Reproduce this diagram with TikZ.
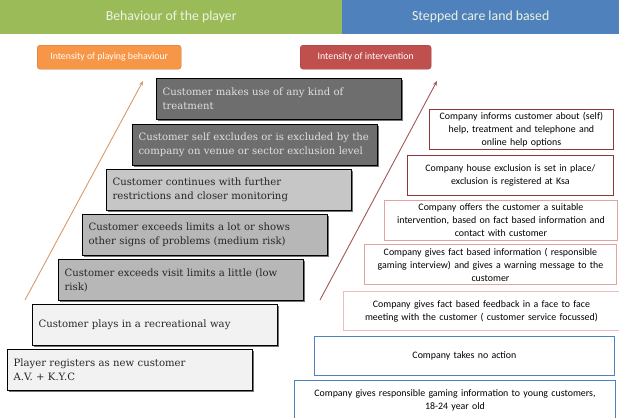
\documentclass[tikz,border=0pt]{standalone}
\usepackage{fontspec}
\setmainfont{DejaVu Serif}
\newfontfamily\carlitofont{Carlito}
\usetikzlibrary{shadows,arrows.meta}
\definecolor{hgreen}{HTML}{9BBB59}
\definecolor{hblue}{HTML}{4F81BD}
\definecolor{horange}{HTML}{F79646}
\definecolor{hred}{HTML}{C0504D}
\definecolor{darkbox}{HTML}{6E6E6E}
\definecolor{midbox}{HTML}{C6C6C6}
\definecolor{midboxb}{HTML}{B7B7B7}
\definecolor{lightbox}{HTML}{F2F2F2}
\definecolor{darkred}{HTML}{8B3A3A}
\definecolor{pinkb}{HTML}{E2A3A3}
\definecolor{pinkc}{HTML}{EDBDBD}
\definecolor{arrorange}{HTML}{D8996A}
\definecolor{arrred}{HTML}{A25656}
\definecolor{htext}{HTML}{EEF3E2}
\tikzset{
  hdr/.style={anchor=north west, inner sep=0pt, text=htext, font=\carlitofont\fontsize{13.8}{15}\selectfont},
  tag/.style={anchor=north west, rounded corners=3pt, inner sep=0pt, text=white, font=\carlitofont\fontsize{9.8}{11}\selectfont, minimum height=24pt},
  lbox/.style={anchor=north west, draw=black, line width=1.1pt, inner xsep=6pt, inner ysep=0pt,
     minimum height=41pt, text width=233pt, align=left,
     font=\fontsize{10.1}{14}\selectfont,
     drop shadow={shadow xshift=1.2pt, shadow yshift=-1.2pt, fill=black, opacity=0.55}},
  rbox/.style={anchor=north west, line width=0.9pt, inner xsep=2pt, inner ysep=0pt, minimum height=40pt,
     align=center, font=\carlitofont\fontsize{9.9}{13}\selectfont, fill=white},
  upar/.style={line width=0.9pt, -{Stealth[length=5pt,width=4pt]}}
}
\begin{document}
\begin{tikzpicture}[x=1pt,y=-1pt]
\useasboundingbox (0,0) rectangle (619,418);
% headers
\node[hdr, fill=hgreen, minimum width=342pt, minimum height=34pt] (hg) at (0,0) {Behaviour of the player};
\node[hdr, fill=hblue, minimum width=277pt, minimum height=34pt] (hb) at (342,0) {Stepped care land based};
% tags
\node[tag, fill=horange, draw=horange!80!black, minimum width=144pt] (to) at (37,45) {Intensity of playing behaviour};
\node[tag, fill=hred, draw=hred!80!black, minimum width=131pt] (tr) at (300,45) {Intensity of intervention};
% arrows
\coordinate (oa1) at (25,300);
\coordinate (oa2) at (143,81);
\coordinate (ra1) at (320,300);
\coordinate (ra2) at (437,81);
\draw[upar, arrorange] (oa1) -- (oa2);
\draw[upar, arrred] (ra1) -- (ra2);
% left boxes
\node[lbox, fill=darkbox, text=white!88!black] (b1) at (156,78) {Customer makes use of any kind of\\treatment};
\node[lbox, fill=darkbox, text=white!88!black] (b2) at (132,124) {Customer self excludes or is excluded by the\\company on venue or sector exclusion level};
\node[lbox, fill=midbox, text=black!85] (b3) at (106,169) {Customer continues with further\\restrictions and closer monitoring};
\node[lbox, fill=midboxb, text=black!85] (b4) at (82,214) {Customer exceeds limits a lot or shows\\other signs of problems (medium risk)};
\node[lbox, fill=midboxb, text=black!85] (b5) at (58,259) {Customer exceeds visit limits a little (low\\risk)};
\node[lbox, fill=lightbox, text=black!85] (b6) at (32,304) {Customer plays in a recreational way};
\node[lbox, fill=lightbox, text=black!85] (b7) at (7,349) {Player registers as new customer\\A.V. + K.Y.C};
% right boxes
\node[rbox, draw=darkred, minimum width=184pt, text width=180pt] (r1) at (429,109) {Company informs customer about (self)\\help, treatment and telephone and\\online help options};
\node[rbox, draw=darkred, minimum width=206pt, text width=202pt] (r2) at (407,155) {Company house exclusion is set in place/\\exclusion is registered at Ksa};
\node[rbox, draw=pinkb, minimum width=233pt, text width=229pt] (r3) at (384,200) {Company offers the customer a suitable\\intervention, based on fact based information and\\contact with customer};
\node[rbox, draw=pinkb, minimum width=252pt, text width=248pt] (r4) at (364,244) {Company gives fact based information ( responsible\\gaming interview) and gives a warning message to the\\customer};
\node[rbox, draw=pinkc, minimum width=276pt, text width=272pt, minimum height=39pt] (r5) at (343,291) {Company gives fact based feedback in a face to face\\meeting with the customer ( customer service focussed)};
\node[rbox, draw=hblue, minimum width=300pt, text width=296pt, minimum height=39pt] (r6) at (314,336) {Company takes no action};
\node[rbox, draw=hblue, minimum width=321pt, text width=317pt, minimum height=40pt] (r7) at (294,380) {Company gives responsible gaming information to young customers,\\18-24 year old};
\end{tikzpicture}
\end{document}
